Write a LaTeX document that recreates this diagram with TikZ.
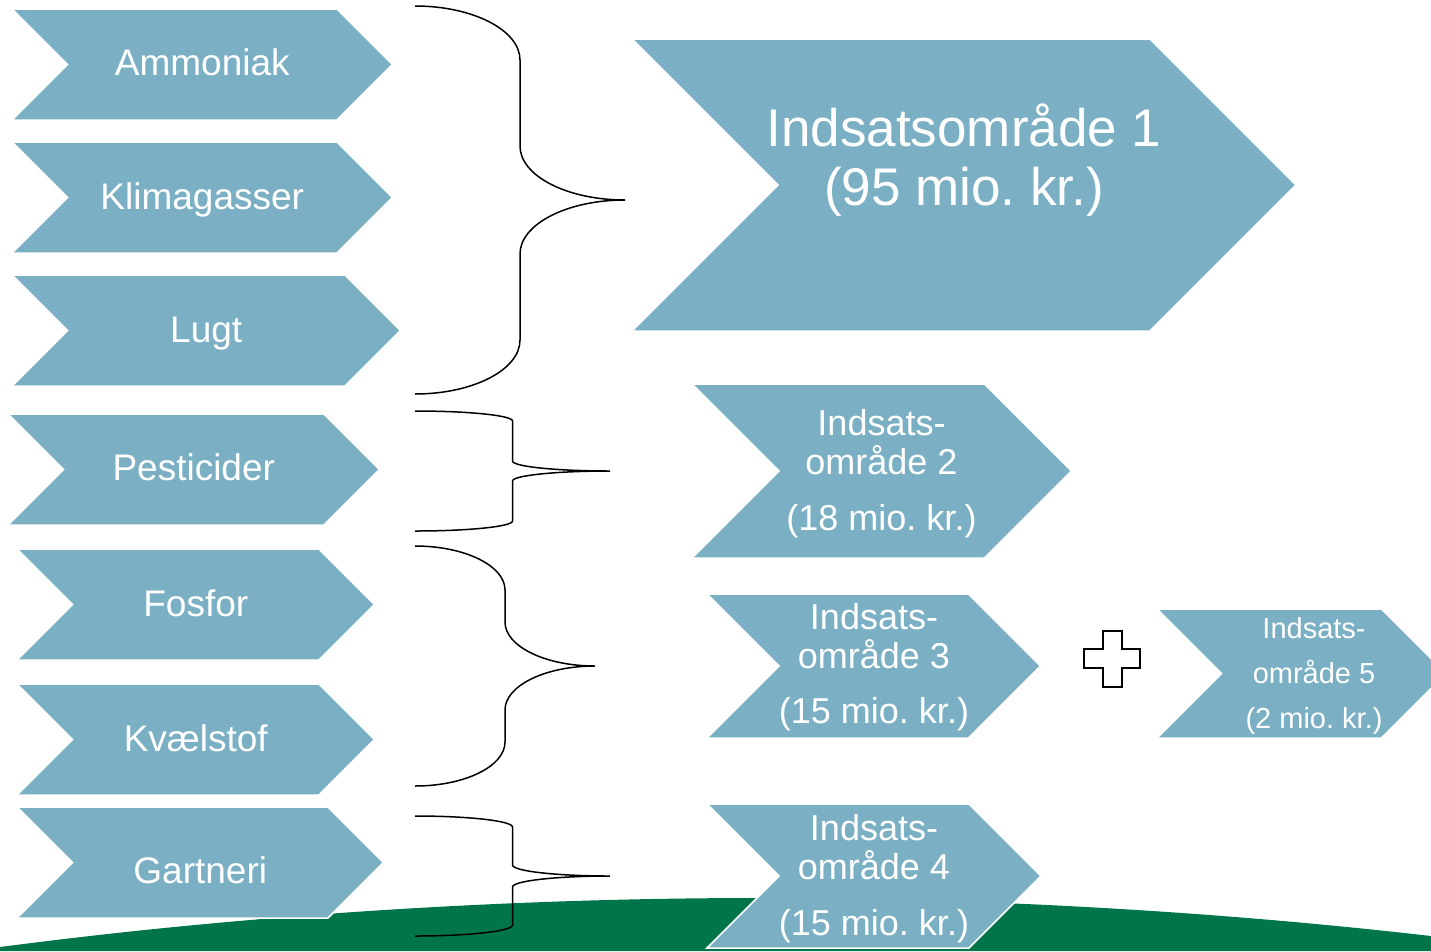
\documentclass[tikz,border=0pt]{standalone}
\usepackage{fontspec}
\setmainfont{Liberation Sans}
\frenchspacing
\definecolor{chev}{RGB}{123,176,196}
\definecolor{ground}{RGB}{0,117,74}
\tikzset{
  chevfill/.style={fill=chev, draw=white, line width=1.5pt, line join=miter},
  lbl/.style={text=white, anchor=base, inner sep=0pt, font=\fontsize{37}{40}\selectfont},
  ilbl/.style={text=white, anchor=base, inner sep=0pt, font=\fontsize{36}{39}\selectfont},
  biglbl/.style={text=white, anchor=base, inner sep=0pt, font=\fontsize{53}{58}\selectfont},
  smalllbl/.style={text=white, anchor=base, inner sep=0pt, font=\fontsize{29}{33}\selectfont},
  brc/.style={draw=black, line width=1.5pt},
}
% #1 name, #2 left x, #3 top y, #4 bottom y, #5 body end x
\newcommand\mychev[5]{%
  \pgfmathsetmacro\chvh{(#4-#3)/2}%
  \path[chevfill] (#2,#3) -- (#5,#3) -- (#5+\chvh,#3+\chvh) -- (#5,#4) -- (#2,#4) -- (#2+\chvh,#3+\chvh) -- cycle;
  \coordinate (#1) at ({(#2+#5+\chvh)/2},{#3+\chvh});}
% #1 x0, #2 rx, #3 ytop, #4 ytip, #5 ybot, #6 ry
\newcommand\mybrace[6]{%
  \draw[brc] (#1,#3) .. controls ({#1+0.5523*#2},#3) and ({#1+#2},{#3+#6-0.5523*#6}) .. ({#1+#2},{#3+#6})
    -- ({#1+#2},{#4-#6}) .. controls ({#1+#2},{#4-#6+0.5523*#6}) and ({#1+2*#2-0.5523*#2},#4) .. ({#1+2*#2},#4)
    .. controls ({#1+2*#2-0.5523*#2},#4) and ({#1+#2},{#4+#6-0.5523*#6}) .. ({#1+#2},{#4+#6})
    -- ({#1+#2},{#5-#6}) .. controls ({#1+#2},{#5-#6+0.5523*#6}) and ({#1+0.5523*#2},#5) .. (#1,#5);}
\begin{document}
\begin{tikzpicture}[x=1pt,y=-1pt]
\useasboundingbox (0,0) rectangle (1431,951);
\clip (0,0) rectangle (1431,951);
% ground
\fill[ground] (0,951) -- (0,947) parabola bend (760,898) (1431,936) -- (1431,951) -- cycle;
% left chevrons
\mychev{amm}{12}{9}{120}{337}
\mychev{kli}{12}{142}{253}{337}
\mychev{lug}{12}{275}{386}{345}
\mychev{pes}{8}{414}{525}{324}
\mychev{fos}{17}{549}{660}{319}
\mychev{kva}{17}{684}{795}{319}
\mychev{gar}{17}{807}{918}{328}
% right chevrons
\mychev{o1}{632}{39}{331}{1150}
\mychev{o2}{692}{384}{558}{984.5}
\mychev{o3}{707}{594}{738}{968.5}
\mychev{o4}{707}{804}{948}{969}
\mychev{o5}{1157}{609}{738}{1381.5}
% braces
\mybrace{415}{105}{6}{200}{394}{54}
\mybrace{415}{97.5}{411}{471}{531}{10}
\mybrace{415}{90}{546}{666}{786}{44}
\mybrace{415}{97.5}{816}{876}{936}{11}
% plus sign
\draw[fill=white, line width=2pt] (1102.5,630.5) -- (1121.5,630.5) -- (1121.5,649) -- (1140,649) -- (1140,668) -- (1121.5,668) -- (1121.5,686.5) -- (1102.5,686.5) -- (1102.5,668) -- (1084,668) -- (1084,649) -- (1102.5,649) -- cycle;
% left labels
\node[lbl] (tamm) at ([yshift=-10.5pt]amm) {Ammoniak};
\node[lbl] (tkli) at ([yshift=-11.8pt]kli) {Klimagasser};
\node[lbl] (tlug) at ([yshift=-11.7pt]lug) {Lugt};
\node[lbl] (tpes) at ([yshift=-10.5pt]pes) {Pesticider};
\node[lbl] (tfos) at ([yshift=-11.5pt]fos) {Fosfor};
\node[lbl] (tkva) at ([yshift=-12pt]kva) {Kvælstof};
\node[lbl] (tgar) at ([yshift=-21pt]gar) {Gartneri};
% right labels
\node[biglbl] (t1a) at (964,146.7) {Indsatsområde 1};
\node[biglbl] (t1b) at (964,205) {(95 mio. kr.)};
\node[ilbl] (t2a) at (881.5,435) {Indsats-};
\node[ilbl] (t2b) at (881.5,474.3) {område 2};
\node[ilbl] (t2c) at (881.5,530) {(18 mio. kr.)};
\node[ilbl] (t3a) at (874,629) {Indsats-};
\node[ilbl] (t3b) at (874,668.5) {område 3};
\node[ilbl] (t3c) at (874,723) {(15 mio. kr.)};
\node[ilbl] (t4a) at (874,840) {Indsats-};
\node[ilbl] (t4b) at (874,879.5) {område 4};
\node[ilbl] (t4c) at (874,935) {(15 mio. kr.)};
\node[smalllbl] (t5a) at (1314,638) {Indsats-};
\node[smalllbl] (t5b) at (1314,683) {område 5};
\node[smalllbl] (t5c) at (1314,728) {(2 mio. kr.)};
\end{tikzpicture}
\end{document}
